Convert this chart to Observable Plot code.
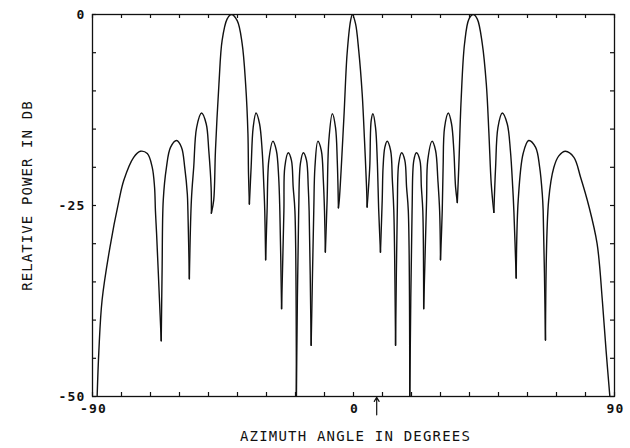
<!DOCTYPE html>
<html><head><meta charset="utf-8">
<script src="https://cdn.jsdelivr.net/npm/d3@7"></script>
<script src="https://cdn.jsdelivr.net/npm/@observablehq/plot@0.6"></script>
<style>
body{margin:0;background:#fff;}
</style></head><body><div id="chart"></div>
<script>
// Azimuth angle (deg) and relative power (dB), read lobe by lobe (null to null)
const lobeAngles = [
  [-88.4, -87.8, -86.7, -84.0, -80.9, -79.2, -75.8, -73.5, -71.1, -69.4, -68.6, -68.3, -67.9, -66.9, -66.3],
  [-66.3, -66.0, -65.6, -64.5, -63.1, -61.0, -59.3, -58.2, -57.3, -57.1, -56.6],
  [-56.6, -55.9, -55.1, -54.1, -52.4, -50.8, -49.9, -49.1, -49.0],
  [-49.0, -48.2, -47.6, -46.4, -45.3, -43.6, -42.1, -40.1, -38.4, -37.2, -36.4, -36.2, -35.9],
  [-35.9, -35.3, -34.6, -33.6, -32.4, -31.5, -30.9, -30.6, -30.3],
  [-30.3, -29.8, -29.2, -27.8, -26.6, -25.8, -25.4, -24.8],
  [-24.8, -24.0, -23.7, -22.5, -21.4, -20.8, -20.2, -19.7],
  [-19.7, -18.9, -18.3, -17.3, -16.2, -15.6, -15.3, -14.6],
  [-14.6, -13.7, -13.3, -12.3, -11.1, -10.4, -10.0, -9.7],
  [-9.7, -9.1, -8.5, -7.3, -6.2, -5.6, -5.2],
  [-5.2, -4.9, -3.3, -2.2, -1.0, -0.4, 0.7, 1.8, 3.0, 3.8, 4.5, 4.7],
  [4.7, 5.6, 6.1, 6.7, 7.6, 8.2, 8.7, 9.3],
  [9.3, 9.9, 10.2, 10.8, 11.6, 12.8, 13.4, 13.9, 14.5],
  [14.5, 15.1, 15.6, 16.6, 17.7, 18.3, 18.9, 19.4],
  [19.4, 20.2, 20.8, 21.7, 22.9, 23.4, 23.9, 24.2],
  [24.2, 25.2, 25.6, 27.1, 28.3, 29.1, 29.7, 30.0],
  [30.0, 30.6, 30.9, 31.4, 32.7, 33.8, 34.6, 35.2, 35.8],
  [35.8, 36.3, 37.1, 38.3, 39.8, 41.3, 42.7, 44.4, 45.8, 46.7, 47.5, 48.4],
  [48.4, 49.0, 49.8, 51.3, 53.0, 54.1, 54.9, 55.3, 56.1],
  [56.1, 56.8, 58.5, 60.4, 62.8, 64.2, 65.1, 65.4, 66.2],
  [66.2, 67.3, 69.1, 70.8, 73.1, 76.0, 78.3, 81.1, 84.0, 85.8, 87.1, 88.4]
];
const lobePowers = [
  [-50, -44.0, -37.4, -30.5, -24.4, -21.7, -18.7, -17.9, -18.2, -20.0, -22.6, -25.7, -28.7, -37.4, -42.7],
  [-42.7, -33.5, -24.3, -20.0, -17.4, -16.5, -17.4, -20.0, -23.5, -25.7, -34.6],
  [-34.6, -24.3, -20.0, -14.8, -12.9, -14.3, -17.8, -22.6, -26.0],
  [-26.0, -24.3, -17.8, -9.1, -3.4, -0.6, 0, -0.8, -3.8, -9.1, -15.6, -20.9, -24.8],
  [-24.8, -20.0, -14.8, -12.9, -14.3, -17.8, -22.6, -25.7, -32.1],
  [-32.1, -25.7, -19.1, -16.6, -17.8, -21.3, -25.7, -38.5],
  [-38.5, -25.7, -20.0, -18.1, -19.1, -22.6, -25.7, -50],
  [-50, -25.7, -19.5, -18.1, -19.1, -22.6, -25.7, -43.3],
  [-43.3, -25.7, -20.0, -16.6, -17.8, -21.7, -25.7, -31.1],
  [-31.1, -24.3, -16.5, -13.0, -14.8, -19.1, -25.3],
  [-25.3, -24.3, -13.4, -5.1, -0.8, 0, -1.2, -4.7, -10.4, -16.5, -22.6, -25.2],
  [-25.2, -20.0, -13.9, -13.0, -14.8, -19.1, -25.7, -31.1],
  [-31.1, -24.3, -20.0, -17.4, -16.6, -17.8, -21.7, -25.7, -43.3],
  [-43.3, -25.7, -19.5, -18.1, -19.1, -22.6, -25.7, -50],
  [-50, -25.7, -19.1, -18.1, -19.1, -22.6, -25.7, -38.5],
  [-38.5, -24.3, -19.1, -16.6, -17.8, -21.7, -25.7, -32.1],
  [-32.1, -25.7, -20.0, -14.8, -12.9, -14.3, -17.8, -22.6, -24.6],
  [-24.6, -20.0, -11.3, -3.8, -0.6, 0, -0.6, -3.8, -9.1, -15.6, -22.2, -25.9],
  [-25.9, -20.0, -14.8, -12.9, -14.3, -17.8, -22.6, -25.7, -34.5],
  [-34.5, -24.3, -18.2, -16.5, -17.4, -20.0, -23.5, -25.7, -42.6],
  [-42.6, -24.3, -20.0, -18.5, -17.9, -18.7, -21.3, -25.0, -30.0, -37.4, -44.0, -50]
];
const xTicks = [-90, -80, -70, -60, -50, -40, -30, -20, -10, 0, 10, 20, 30, 40, 50, 60, 70, 80, 90];
const yTicks = [0, -5, -10, -15, -20, -25, -30, -35, -40, -45, -50];
const xLabelValues = [-90, 0, 90];
const xLabelText = ["-90", "0", "90"];
const yLabelValues = [0, -25, -50];
const yLabelText = ["0", "-25", "-50"];
const xTitle = "AZIMUTH ANGLE IN DEGREES";
const yTitle = "RELATIVE POWER IN DB";
const markerAngle = 8;

const rows = [];
lobeAngles.forEach((a, i) => a.forEach((x, j) => rows.push({lobe: i, angle: x, power: lobePowers[i][j]})));

const ink = "#111";
const W = 630, H = 448, mT = 14, mR = 16, mB = 52, mL = 92;
const pw = W - mL - mR, ph = H - mT - mB, tk = 4;
const chart = Plot.plot({
  width: W, height: H,
  marginTop: mT, marginRight: mR, marginBottom: mB, marginLeft: mL,
  style: {background: "#fff", color: ink, fontFamily: "'DejaVu Sans Mono', monospace"},
  x: {domain: [-90, 90], axis: null},
  y: {domain: [-50, 0], axis: null},
  marks: [
    Plot.tickX(xTicks, {x: d => d, insetTop: ph - tk, stroke: ink, strokeWidth: 1.2}),
    Plot.tickX(xTicks, {x: d => d, insetBottom: ph - tk, stroke: ink, strokeWidth: 1.2}),
    Plot.tickY(yTicks, {y: d => d, insetRight: pw - tk, stroke: ink, strokeWidth: 1.2}),
    Plot.tickY(yTicks, {y: d => d, insetLeft: pw - tk, stroke: ink, strokeWidth: 1.2}),
    Plot.frame({stroke: ink, strokeWidth: 1.3}),
    Plot.line(rows, {x: "angle", y: "power", z: "lobe", curve: "catmull-rom", stroke: ink, strokeWidth: 1.4, clip: true}),
    Plot.text(xLabelValues, {x: d => d, text: (d, i) => xLabelText[i], frameAnchor: "bottom", dy: 16, dx: 1, fontSize: 13, fontWeight: "bold", fill: ink}),
    Plot.text(yLabelValues, {y: d => d, text: (d, i) => yLabelText[i], frameAnchor: "left", dx: -7, textAnchor: "end", fontSize: 13, fontWeight: "bold", fill: ink}),
    Plot.text([xTitle], {x: 0, text: d => d, frameAnchor: "bottom", dy: 44, dx: 2, fontSize: 14, fill: ink}),
    Plot.text([yTitle], {y: -23.7, text: d => d, frameAnchor: "left", textAnchor: "middle", dx: -65, rotate: -90, fontSize: 14, fill: ink}),
    Plot.arrow([markerAngle], {x1: d => d, x2: d => d, y1: -52.4, y2: -50.1, stroke: ink, strokeWidth: 1.2, headLength: 6, bend: 0})
  ]
});
d3.select(chart).selectAll("text").each(function () {
  const t = this.textContent;
  if (t === xTitle) this.style.letterSpacing = "1.2px";
  else if (t === yTitle) this.style.letterSpacing = "1.1px";
  else if (xLabelText.includes(t) || yLabelText.includes(t)) this.style.letterSpacing = "1.2px";
});
document.getElementById("chart").appendChild(chart);
</script></body></html>
